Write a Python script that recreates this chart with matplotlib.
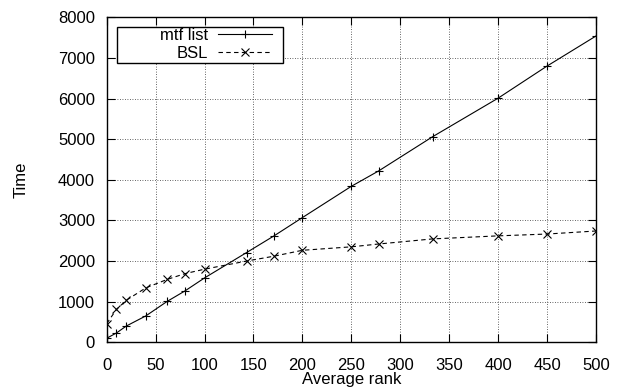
import matplotlib
matplotlib.use("Agg")
import matplotlib.pyplot as plt
from matplotlib.patches import Rectangle

plt.rcParams['font.family'] = ['Liberation Sans', 'DejaVu Sans']

# values
rank = [0, 10, 20, 40, 62, 80, 100, 143, 171, 200, 250, 278, 333, 400, 450, 500]
mtf_list = [100, 230, 400, 650, 1010, 1265, 1585, 2210, 2620, 3070,
            3840, 4220, 5060, 6010, 6800, 7540]
bsl = [460, 810, 1035, 1340, 1550, 1690, 1800, 2000, 2120, 2265,
       2350, 2420, 2545, 2620, 2665, 2740]

x_ticks = list(range(0, 501, 50))
y_ticks = list(range(0, 8001, 1000))

W, H = 619, 390
L, R, T, B = 106.7, 596, 17.3, 342.3   # plot area in pixels
fs = 12

fig = plt.figure(figsize=(W / 100, H / 100), dpi=100)
ax = fig.add_axes([L / W, 1 - B / H, (R - L) / W, (B - T) / H])

ax.plot(rank, mtf_list, color='black', lw=0.8, marker='+', ms=6, mew=0.8,
        label='mtf list')
ax.plot(rank, bsl, color='black', lw=0.8, ls=(0, (4, 3)), marker='x', ms=5.5,
        mew=0.8, label='BSL')

ax.set_xlim(0, 500)
ax.set_ylim(0, 8000)
ax.set_xticks(x_ticks)
ax.set_yticks(y_ticks)
ax.tick_params(direction='in', length=6, width=0.8, top=True, right=True,
               labelsize=fs, colors='black')
ax.tick_params(axis='x', pad=11.5)
ax.tick_params(axis='y', pad=8.5)
ax.grid(True, color='#333333', lw=0.6, ls=(0, (1, 2)))
for s in ax.spines.values():
    s.set_linewidth(1.0)

ax.set_xlabel('Average rank', fontsize=fs, labelpad=-1)
ax.set_ylabel('Time', fontsize=fs)
ax.yaxis.set_label_coords((28.5 - L) / (R - L), 0.5)


def fx(px):
    return (px - L) / (R - L)


def fy(py):
    return (B - py) / (B - T)


# key box like gnuplot's, text right aligned before the sample
ax.add_patch(Rectangle((fx(117.3), fy(63.3)), fx(282.7) - fx(117.3), fy(26.7) - fy(63.3),
                       transform=ax.transAxes, facecolor='white', edgecolor='black',
                       lw=1.0, zorder=4))
leg = ax.legend(loc='upper right', bbox_to_anchor=(fx(272), fy(27.8)), markerfirst=False,
                frameon=False, fontsize=fs, borderpad=0, handlelength=3.25,
                handletextpad=0.6, labelspacing=0.18, borderaxespad=0)
leg.set_zorder(5)

fig.savefig('out.png', dpi=100)
